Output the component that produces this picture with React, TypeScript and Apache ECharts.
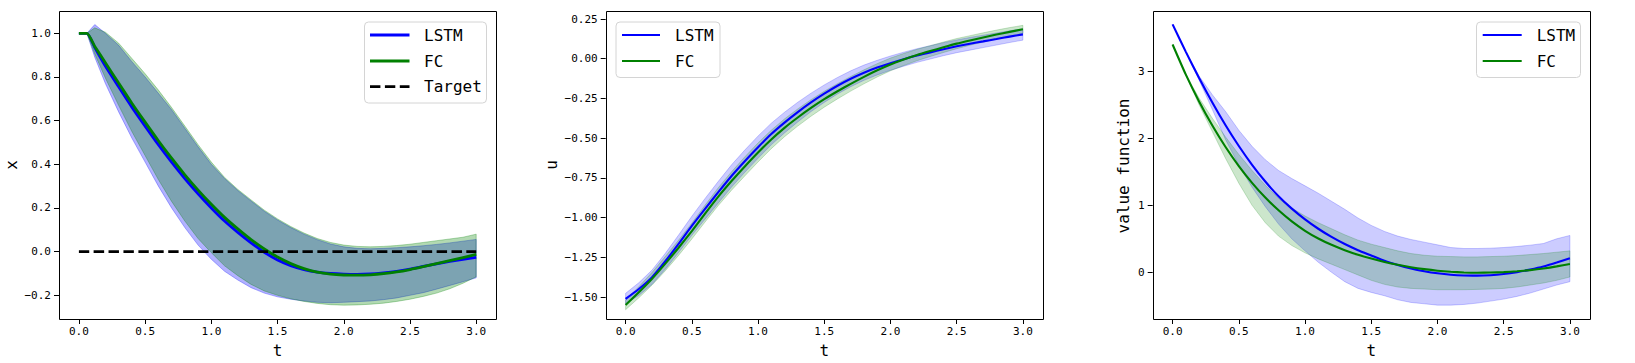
import React, { useEffect, useRef } from "react";
import * as echarts from "echarts";

// ---------- data ----------
const T1 = [0, 0.06, 0.12, 0.2, 0.3, 0.4, 0.5, 0.6, 0.7, 0.8, 0.9, 1.0, 1.1, 1.2, 1.3, 1.4, 1.5, 1.6, 1.7, 1.8, 1.9, 2.0, 2.1, 2.2, 2.3, 2.4, 2.5, 2.6, 2.7, 2.8, 2.9, 3.0];
const X_LSTM = [1.0, 1.0, 0.935, 0.85, 0.755, 0.662, 0.575, 0.49, 0.41, 0.335, 0.265, 0.2, 0.14, 0.088, 0.04, -0.003, -0.038, -0.064, -0.082, -0.094, -0.1, -0.103, -0.104, -0.102, -0.097, -0.09, -0.08, -0.068, -0.056, -0.045, -0.035, -0.026];
const X_FC = [1.0, 1.0, 0.94, 0.865, 0.772, 0.68, 0.593, 0.508, 0.428, 0.352, 0.282, 0.217, 0.157, 0.104, 0.055, 0.012, -0.025, -0.055, -0.078, -0.094, -0.103, -0.107, -0.108, -0.106, -0.101, -0.093, -0.082, -0.069, -0.055, -0.041, -0.027, -0.013];
const X_LSTM_UP = [1.0, 1.0, 1.04, 1.0, 0.945, 0.87, 0.8, 0.725, 0.65, 0.565, 0.48, 0.4, 0.335, 0.28, 0.232, 0.185, 0.145, 0.11, 0.08, 0.055, 0.035, 0.022, 0.015, 0.013, 0.015, 0.018, 0.022, 0.027, 0.033, 0.04, 0.048, 0.056];
const X_LSTM_LO = [1.0, 1.0, 0.89, 0.77, 0.64, 0.52, 0.41, 0.3, 0.2, 0.11, 0.03, -0.035, -0.09, -0.13, -0.165, -0.19, -0.207, -0.218, -0.226, -0.232, -0.234, -0.232, -0.229, -0.226, -0.22, -0.212, -0.2, -0.188, -0.172, -0.155, -0.138, -0.12];
const X_FC_UP = [1.0, 1.0, 1.025, 1.005, 0.955, 0.885, 0.815, 0.74, 0.66, 0.575, 0.49, 0.41, 0.34, 0.285, 0.237, 0.19, 0.15, 0.115, 0.085, 0.06, 0.042, 0.03, 0.024, 0.022, 0.024, 0.028, 0.034, 0.042, 0.05, 0.058, 0.066, 0.08];
const X_FC_LO = [1.0, 1.0, 0.905, 0.795, 0.67, 0.55, 0.44, 0.33, 0.23, 0.14, 0.06, -0.005, -0.065, -0.11, -0.15, -0.18, -0.2, -0.216, -0.228, -0.237, -0.243, -0.245, -0.244, -0.241, -0.236, -0.228, -0.218, -0.205, -0.19, -0.17, -0.145, -0.115];
const TARGET_T = [0, 3];
const TARGET_V = [0, 0];

const T = [0, 0.1, 0.2, 0.3, 0.4, 0.5, 0.6, 0.7, 0.8, 0.9, 1.0, 1.1, 1.2, 1.3, 1.4, 1.5, 1.6, 1.7, 1.8, 1.9, 2.0, 2.1, 2.2, 2.3, 2.4, 2.5, 2.6, 2.7, 2.8, 2.9, 3.0];
const U_LSTM = [-1.512, -1.45, -1.375, -1.275, -1.165, -1.052, -0.945, -0.84, -0.738, -0.645, -0.557, -0.474, -0.402, -0.336, -0.275, -0.22, -0.17, -0.126, -0.088, -0.056, -0.028, -0.003, 0.02, 0.04, 0.06, 0.078, 0.094, 0.109, 0.124, 0.139, 0.153];
const U_FC = [-1.55, -1.47, -1.385, -1.29, -1.19, -1.085, -0.975, -0.868, -0.77, -0.678, -0.59, -0.508, -0.435, -0.37, -0.31, -0.255, -0.205, -0.158, -0.114, -0.073, -0.036, -0.005, 0.023, 0.048, 0.072, 0.095, 0.115, 0.134, 0.152, 0.169, 0.185];
const U_LSTM_UP = [-1.477, -1.41, -1.33, -1.225, -1.11, -0.992, -0.88, -0.772, -0.668, -0.575, -0.487, -0.406, -0.337, -0.274, -0.217, -0.165, -0.118, -0.076, -0.04, -0.01, 0.017, 0.041, 0.063, 0.082, 0.101, 0.118, 0.134, 0.148, 0.162, 0.176, 0.188];
const U_LSTM_LO = [-1.542, -1.49, -1.42, -1.325, -1.22, -1.112, -1.01, -0.908, -0.808, -0.715, -0.627, -0.542, -0.467, -0.398, -0.333, -0.275, -0.222, -0.176, -0.136, -0.102, -0.073, -0.047, -0.023, -0.002, 0.019, 0.038, 0.054, 0.07, 0.086, 0.102, 0.117];
const U_FC_UP = [-1.52, -1.435, -1.345, -1.245, -1.142, -1.035, -0.922, -0.812, -0.712, -0.618, -0.53, -0.45, -0.379, -0.316, -0.258, -0.205, -0.157, -0.112, -0.07, -0.031, 0.004, 0.033, 0.059, 0.082, 0.105, 0.127, 0.145, 0.163, 0.18, 0.196, 0.21];
const U_FC_LO = [-1.58, -1.505, -1.425, -1.335, -1.238, -1.135, -1.028, -0.924, -0.828, -0.738, -0.65, -0.566, -0.491, -0.424, -0.362, -0.305, -0.253, -0.204, -0.158, -0.115, -0.076, -0.043, -0.013, 0.014, 0.039, 0.063, 0.085, 0.105, 0.124, 0.142, 0.16];

const V_LSTM = [3.7, 3.29, 2.9, 2.535, 2.195, 1.885, 1.605, 1.355, 1.135, 0.95, 0.79, 0.65, 0.528, 0.422, 0.33, 0.251, 0.172, 0.11, 0.058, 0.017, -0.015, -0.037, -0.048, -0.05, -0.043, -0.025, 0.003, 0.04, 0.085, 0.145, 0.21];
const V_FC = [3.4, 2.95, 2.55, 2.19, 1.87, 1.585, 1.335, 1.115, 0.925, 0.76, 0.62, 0.505, 0.41, 0.33, 0.262, 0.205, 0.155, 0.112, 0.076, 0.047, 0.024, 0.008, -0.002, -0.006, -0.004, 0.003, 0.015, 0.033, 0.057, 0.088, 0.125];
const V_LSTM_UP = [3.7, 3.29, 2.93, 2.65, 2.4, 2.12, 1.88, 1.68, 1.52, 1.4, 1.29, 1.18, 1.06, 0.94, 0.81, 0.7, 0.61, 0.54, 0.49, 0.45, 0.41, 0.37, 0.355, 0.355, 0.36, 0.37, 0.385, 0.405, 0.43, 0.5, 0.55];
const V_LSTM_LO = [3.7, 3.29, 2.87, 2.43, 1.98, 1.6, 1.27, 0.98, 0.72, 0.5, 0.32, 0.15, 0.0, -0.14, -0.24, -0.3, -0.35, -0.41, -0.45, -0.47, -0.49, -0.49, -0.48, -0.46, -0.43, -0.4, -0.36, -0.31, -0.25, -0.19, -0.14];
const V_FC_UP = [3.4, 2.95, 2.6, 2.3, 2.02, 1.76, 1.52, 1.3, 1.1, 0.96, 0.84, 0.74, 0.65, 0.56, 0.48, 0.42, 0.37, 0.32, 0.28, 0.255, 0.24, 0.235, 0.23, 0.23, 0.235, 0.24, 0.25, 0.265, 0.28, 0.3, 0.32];
const V_FC_LO = [3.4, 2.95, 2.5, 2.1, 1.7, 1.33, 1.0, 0.74, 0.54, 0.4, 0.29, 0.2, 0.12, 0.04, -0.04, -0.12, -0.18, -0.22, -0.24, -0.25, -0.26, -0.26, -0.26, -0.255, -0.25, -0.24, -0.22, -0.19, -0.16, -0.12, -0.07];

const X_TICKS = { min: 0, max: 3, interval: 0.5 };
const Y1_TICKS = { min: -0.2, max: 1.0, interval: 0.2 };
const Y2_TICKS = { min: -1.5, max: 0.25, interval: 0.25 };
const Y3_TICKS = { min: 0, max: 3, interval: 1 };

// ---------- styling / layout ----------
const FONT = '"DejaVu Sans Mono", monospace';
const BLUE = "#0000ff";
const GREEN = "#008000";

const zip = (t: number[], v: number[]) => t.map((x, i) => [x, v[i]]);
const fmt = (d: number) => (v: number) => v.toFixed(d).replace("-", "\u2212");

function band(idx: number, t: number[], up: number[], lo: number[], rgb: string, alpha: number, z: number) {
  return {
    type: "custom",
    xAxisIndex: idx,
    yAxisIndex: idx,
    coordinateSystem: "cartesian2d",
    clip: false,
    silent: true,
    z,
    data: [0],
    renderItem: (_p: any, api: any) => {
      const pts: number[][] = [];
      for (let k = 0; k < t.length; k++) pts.push(api.coord([t[k], up[k]]));
      for (let k = t.length - 1; k >= 0; k--) pts.push(api.coord([t[k], lo[k]]));
      return {
        type: "polygon",
        shape: { points: pts },
        style: { fill: `rgba(${rgb},${alpha})`, stroke: `rgba(${rgb},${alpha})`, lineWidth: 1 },
      };
    },
  };
}

function line(idx: number, t: number[], v: number[], color: string, width: number, z: number, dash?: number[]) {
  return {
    type: "line",
    xAxisIndex: idx,
    yAxisIndex: idx,
    data: zip(t, v),
    showSymbol: false,
    symbol: "none",
    clip: false,
    silent: true,
    smooth: 0.2,
    z,
    lineStyle: { color, width, type: dash ? dash : "solid" },
  };
}

// box [left, top, width, height]; data-area grid
const PANELS = [
  { box: [59, 11, 437, 308], grid: { left: 78.9, top: 33.3, width: 397.3, height: 262 }, yt: Y1_TICKS, yd: 1 },
  { box: [605.7, 11, 437, 308], grid: { left: 625.6, top: 19, width: 397.3, height: 278 }, yt: Y2_TICKS, yd: 2 },
  { box: [1152.7, 11, 437, 308], grid: { left: 1172.6, top: 71.3, width: 397.3, height: 201 }, yt: Y3_TICKS, yd: 0 },
];

function buildOption() {
  const grids = PANELS.map((p) => ({ ...p.grid, containLabel: false }));
  const tick = { show: true, inside: false, length: 5, lineStyle: { color: "#000", width: 1 } };
  const label = { color: "#000", fontFamily: FONT, fontSize: 11 };
  const xAxis = PANELS.map((p, i) => ({
    type: "value",
    gridIndex: i,
    position: "bottom",
    ...X_TICKS,
    offset: p.box[1] + p.box[3] - (p.grid.top + p.grid.height),
    axisLine: { show: false, onZero: false },
    axisTick: tick,
    splitLine: { show: false },
    axisLabel: { ...label, margin: 7, formatter: fmt(1) },
  }));
  const yAxis = PANELS.map((p, i) => ({
    type: "value",
    gridIndex: i,
    position: "left",
    ...p.yt,
    offset: p.grid.left - p.box[0],
    axisLine: { show: false, onZero: false },
    axisTick: tick,
    splitLine: { show: false },
    axisLabel: { ...label, margin: 8, formatter: fmt(p.yd) },
  }));

  const series: any[] = [
    band(0, T1, X_LSTM_UP, X_LSTM_LO, "0,0,255", 0.3, 1),
    band(0, T1, X_FC_UP, X_FC_LO, "0,128,0", 0.3, 2),
    line(0, T1, X_LSTM, BLUE, 2.8, 3),
    line(0, T1, X_FC, GREEN, 2.8, 4),
    line(0, TARGET_T, TARGET_V, "#000", 2.8, 5, [10.4, 4.5]),
    band(1, T, U_LSTM_UP, U_LSTM_LO, "0,0,255", 0.2, 1),
    band(1, T, U_FC_UP, U_FC_LO, "0,128,0", 0.2, 2),
    line(1, T, U_LSTM, BLUE, 2.1, 3),
    line(1, T, U_FC, GREEN, 2.1, 4),
    band(2, T, V_LSTM_UP, V_LSTM_LO, "0,0,255", 0.2, 1),
    band(2, T, V_FC_UP, V_FC_LO, "0,128,0", 0.2, 2),
    line(2, T, V_LSTM, BLUE, 2.1, 3),
    line(2, T, V_FC, GREEN, 2.1, 4),
  ];

  const g: any[] = [];
  PANELS.forEach((p) => {
    g.push({
      type: "rect",
      z: 100,
      silent: true,
      shape: { x: Math.round(p.box[0]) + 0.5, y: p.box[1] + 0.5, width: p.box[2], height: p.box[3] },
      style: { fill: "none", stroke: "#000", lineWidth: 1 },
    });
  });

  const text = (x: number, y: number, s: string, size: number, rot = 0, align = "center") => ({
    type: "text",
    x,
    y,
    rotation: rot,
    z: 110,
    silent: true,
    style: { text: s, fill: "#000", font: `${size}px ${FONT}`, textAlign: align, textVerticalAlign: "middle" },
  });

  // axis titles
  g.push(text(277.5, 350, "t", 16));
  g.push(text(824.2, 350, "t", 16));
  g.push(text(1371.2, 350, "t", 16));
  g.push(text(11, 165, "x", 16, Math.PI / 2));
  g.push(text(551, 165, "u", 16, Math.PI / 2));
  g.push(text(1123.5, 166, "value function", 16, Math.PI / 2));

  // legends
  const legend = (
    bx: number, by: number, bw: number, bh: number,
    lx0: number, lx1: number, tx: number,
    items: { name: string; color: string; width: number; dash?: number[]; y: number }[]
  ) => {
    g.push({
      type: "rect",
      z: 105,
      silent: true,
      shape: { x: bx + 0.5, y: by + 0.5, width: bw, height: bh, r: 4 },
      style: { fill: "rgba(255,255,255,0.8)", stroke: "#d4d4d4", lineWidth: 1 },
    });
    items.forEach((it) => {
      g.push({
        type: "line",
        z: 106,
        silent: true,
        shape: { x1: lx0, y1: it.y, x2: lx1, y2: it.y },
        style: { stroke: it.color, lineWidth: it.width, lineDash: it.dash || null },
      });
      g.push(text(tx, it.y, it.name, 16, 0, "left"));
    });
  };
  legend(364, 21.5, 122, 81, 370, 409.5, 424, [
    { name: "LSTM", color: BLUE, width: 2.8, y: 35 },
    { name: "FC", color: GREEN, width: 2.8, y: 61 },
    { name: "Target", color: "#000", width: 2.8, dash: [10.4, 4.5], y: 86.7 },
  ]);
  legend(615.5, 21.5, 104, 55.5, 622, 660, 675, [
    { name: "LSTM", color: BLUE, width: 2.1, y: 35 },
    { name: "FC", color: GREEN, width: 2.1, y: 61 },
  ]);
  legend(1476, 21.5, 104, 55.5, 1482.7, 1521.7, 1536.7, [
    { name: "LSTM", color: BLUE, width: 2.1, y: 35 },
    { name: "FC", color: GREEN, width: 2.1, y: 61 },
  ]);

  return {
    animation: false,
    backgroundColor: "#ffffff",
    grid: grids,
    xAxis,
    yAxis,
    series,
    graphic: { elements: g },
  };
}

export default function App() {
  const ref = useRef<HTMLDivElement>(null);
  useEffect(() => {
    const chart = echarts.init(ref.current as HTMLDivElement, null, { renderer: "svg" });
    chart.setOption(buildOption() as any);
    return () => chart.dispose();
  }, []);
  return (
    <div
      ref={ref}
      style={{ position: "absolute", left: 0, top: 0, width: 1635, height: 363, background: "#fff" }}
    />
  );
}
